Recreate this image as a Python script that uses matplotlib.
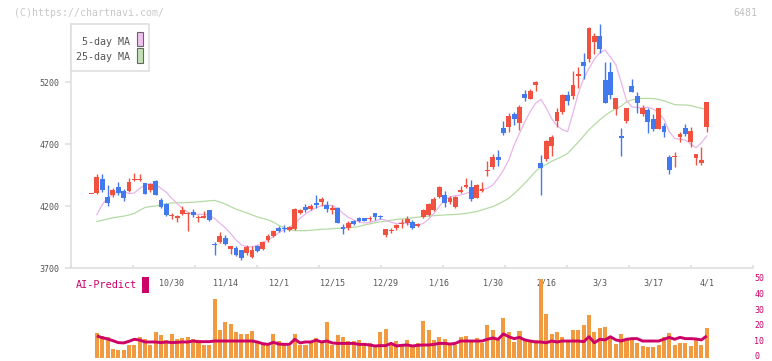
import matplotlib
matplotlib.use("Agg")
import matplotlib.pyplot as plt
from matplotlib.patches import Rectangle
import numpy as np

# daily candles, index 0 .. 115 (index 15 = 10/30, 115 = 4/1)
opens = [4293, 4307, 4418, 4275, 4291, 4353, 4321, 4321, 4412, 4410,
         4385, 4329, 4402, 4248, 4216, 4122, 4106, 4135, 4135, 4151,
         4103, 4106, 4168, 3894, 3910, 3942, 3856, 3861, 3845, 3824,
         3791, 3877, 3853, 3926, 3958, 4025, 4020, 4009, 4015, 4146,
         4192, 4176, 4227, 4232, 4208, 4170, 4187, 4033, 4025, 4082,
         4103, 4103, 4096, 4144, 4116, 3966, 3998, 4020, 4055, 4060,
         4068, 4041, 4114, 4127, 4170, 4275, 4289, 4235, 4195, 4313,
         4356, 4353, 4267, 4321, 4480, 4515, 4595, 4829, 4840, 4942,
         4872, 5103, 5066, 5178, 4547, 4579, 4684, 4888, 4958, 5095,
         5090, 5251, 5364, 5386, 5523, 5574, 5216, 5281, 4985, 4762,
         4886, 5168, 5087, 4942, 4974, 4902, 4824, 4843, 4598, 4595,
         4759, 4829, 4719, 4590, 4550, 4840]
highs = [4296, 4458, 4458, 4369, 4345, 4393, 4337, 4426, 4463, 4458,
         4388, 4380, 4410, 4262, 4227, 4146, 4127, 4203, 4148, 4173,
         4127, 4160, 4170, 3907, 3990, 3969, 3880, 3880, 3848, 3885,
         3877, 3885, 3918, 3972, 4007, 4036, 4047, 4039, 4184, 4176,
         4213, 4216, 4289, 4273, 4240, 4205, 4190, 4052, 4079, 4087,
         4111, 4106, 4119, 4146, 4127, 4018, 4025, 4058, 4093, 4119,
         4087, 4066, 4176, 4227, 4270, 4361, 4321, 4278, 4281, 4361,
         4428, 4410, 4375, 4394, 4563, 4619, 4652, 4885, 4947, 4961,
         5014, 5135, 5141, 5211, 4611, 4732, 4770, 4988, 5103, 5130,
         5289, 5321, 5437, 5646, 5592, 5668, 5359, 5361, 5074, 4829,
         4993, 5224, 5119, 5015, 4993, 4939, 4993, 4867, 4611, 4633,
         4794, 4864, 4837, 4622, 4673, 5042]
lows = [4293, 4300, 4316, 4203, 4273, 4286, 4243, 4313, 4399, 4399,
        4297, 4316, 4288, 4187, 4122, 4092, 4068, 4127, 4001, 4111,
        4074, 4100, 4082, 3805, 3902, 3886, 3813, 3799, 3764, 3808,
        3783, 3830, 3845, 3907, 3953, 3988, 3988, 3998, 4009, 4133,
        4149, 4168, 4181, 4200, 4154, 4138, 4064, 3977, 4007, 4047,
        4074, 4079, 4079, 4090, 4098, 3953, 3985, 4007, 4025, 4049,
        4015, 4033, 4106, 4122, 4162, 4267, 4189, 4219, 4187, 4302,
        4345, 4243, 4262, 4316, 4442, 4501, 4523, 4773, 4797, 4851,
        4813, 5047, 5060, 5130, 4289, 4566, 4603, 4840, 4942, 5017,
        5066, 5154, 5224, 5359, 5423, 5437, 5028, 5063, 4937, 4606,
        4872, 5117, 4953, 4929, 4786, 4808, 4818, 4759, 4461, 4517,
        4719, 4762, 4676, 4531, 4528, 4800]
closes = [4296, 4434, 4332, 4227, 4329, 4307, 4267, 4393, 4415, 4415,
          4299, 4377, 4291, 4195, 4130, 4127, 4119, 4168, 4146, 4127,
          4106, 4119, 4090, 3883, 3958, 3894, 3877, 3808, 3778, 3872,
          3845, 3840, 3912, 3961, 4001, 4001, 4016, 4028, 4179, 4165,
          4165, 4203, 4205, 4256, 4176, 4181, 4066, 4017, 4066, 4055,
          4082, 4082, 4099, 4111, 4113, 4015, 4001, 4050, 4058, 4093,
          4025, 4055, 4168, 4216, 4256, 4353, 4227, 4267, 4273, 4329,
          4369, 4259, 4369, 4337, 4483, 4595, 4574, 4791, 4928, 4899,
          4998, 5074, 5127, 5197, 4509, 4724, 4756, 4955, 5095, 5049,
          5176, 5267, 5329, 5638, 5574, 5466, 5033, 5098, 5071, 4751,
          4990, 5122, 5028, 4990, 4875, 4821, 4990, 4794, 4493, 4598,
          4781, 4781, 4805, 4619, 4571, 5039]

# moving averages as drawn, index 1 .. 115
ma5 = [4130, 4210, 4265, 4290, 4318, 4316, 4300, 4305, 4342, 4369,
       4383, 4370, 4342, 4310, 4262, 4220, 4180, 4150, 4135, 4133,
       4133, 4128, 4100, 4060, 4025, 3979, 3926, 3886, 3872, 3870,
       3882, 3899, 3926, 3953, 3985, 4007, 4025, 4060, 4101, 4136,
       4162, 4187, 4203, 4208, 4203, 4181, 4141, 4109, 4087, 4074,
       4063, 4066, 4079, 4093, 4087, 4068, 4058, 4066, 4060, 4044,
       4044, 4060, 4093, 4141, 4195, 4248, 4275, 4283, 4289, 4302,
       4316, 4324, 4334, 4343, 4369, 4423, 4490, 4571, 4692, 4786,
       4880, 4961, 5028, 5060, 4990, 4905, 4850, 4815, 4800, 4950,
       5110, 5230, 5310, 5385, 5435, 5458, 5400, 5340, 5200, 5050,
       5000, 4995, 4990, 4996, 4982, 4950, 4900, 4800, 4745, 4738,
       4732, 4700, 4670, 4710, 4765]
ma25 = [4075, 4085, 4095, 4105, 4112, 4118, 4128, 4140, 4165, 4188,
        4196, 4200, 4208, 4218, 4224, 4226, 4227, 4228, 4230, 4234,
        4238, 4242, 4245, 4232, 4215, 4195, 4175, 4160, 4145, 4128,
        4112, 4100, 4088, 4070, 4045, 4025, 4008, 4002, 4001, 4001,
        4004, 4008, 4012, 4014, 4017, 4020, 4022, 4025, 4028, 4035,
        4047, 4055, 4065, 4072, 4078, 4085, 4092, 4096, 4100, 4105,
        4110, 4115, 4119, 4122, 4125, 4128, 4130, 4132, 4135, 4140,
        4148, 4155, 4168, 4182, 4195, 4215, 4238, 4262, 4300, 4340,
        4385, 4430, 4480, 4512, 4535, 4560, 4580, 4600, 4625, 4670,
        4715, 4765, 4815, 4855, 4895, 4930, 4960, 4985, 5005, 5040,
        5055, 5065, 5068, 5068, 5066, 5060, 5048, 5033, 5018, 5015,
        5015, 5010, 4998, 4988, 4980]

# lower panel, index 1 .. 115
volume = [15.8, 13.5, 13.0, 5.5, 4.8, 4.8, 8.0, 8.0, 13.0, 11.8,
          8.0, 16.2, 14.3, 11.1, 14.9, 11.8, 12.6, 13.0, 12.0, 11.1,
          8.0, 8.0, 37.0, 17.4, 22.5, 21.2, 16.2, 14.9, 14.9, 16.8,
          9.9, 8.0, 8.0, 14.9, 10.5, 8.0, 7.4, 14.9, 8.0, 8.0,
          9.3, 12.6, 9.3, 22.5, 8.0, 14.3, 13.0, 10.5, 10.5, 11.1,
          8.0, 9.3, 7.0, 16.2, 18.1, 8.0, 10.5, 8.0, 11.1, 8.0,
          9.3, 23.1, 17.4, 11.1, 13.0, 11.8, 9.3, 8.0, 13.0, 13.7,
          10.5, 12.4, 9.3, 20.6, 17.4, 11.1, 25.0, 16.2, 9.9, 16.8,
          11.1, 11.1, 11.1, 49.6, 27.5, 14.9, 16.2, 13.0, 10.5, 17.4,
          17.4, 20.6, 27.0, 16.2, 18.7, 19.3, 13.0, 8.6, 14.9, 11.1,
          12.4, 9.3, 7.4, 6.7, 6.7, 8.0, 13.0, 15.5, 8.0, 9.3,
          9.3, 7.4, 11.1, 8.0, 18.7]
ai_predict = [13.7, 12.6, 11.8, 10.7, 9.5, 9.3, 10.3, 11.6, 11.1, 9.9,
              9.9, 9.9, 9.5, 9.9, 9.5, 9.7, 9.9, 9.9, 10.5, 10.1,
              10.1, 10.1, 10.5, 10.5, 10.5, 10.5, 10.5, 10.5, 10.5, 10.5,
              9.9, 8.8, 8.4, 9.7, 8.6, 8.4, 8.4, 11.6, 9.3, 9.9,
              9.9, 11.0, 9.9, 10.5, 9.3, 9.0, 9.0, 9.0, 9.0, 8.4,
              8.4, 8.0, 7.4, 7.6, 7.6, 9.0, 7.4, 7.8, 8.0, 7.4,
              7.8, 8.0, 8.0, 8.4, 9.0, 9.0, 8.6, 9.0, 10.5, 10.5,
              10.5, 10.5, 10.5, 11.6, 12.4, 11.6, 15.0, 13.2, 12.0, 12.8,
              11.2, 10.5, 9.9, 9.9, 9.4, 10.5, 9.9, 10.5, 10.5, 10.5,
              10.5, 10.1, 13.2, 9.4, 11.6, 11.2, 13.2, 11.2, 10.5, 11.6,
              12.0, 12.0, 10.5, 10.5, 10.5, 10.5, 11.6, 12.8, 11.6, 12.8,
              12.0, 12.0, 11.8, 11.2, 13.7]

date_labels = ["10/30", "11/14", "12/1", "12/15", "12/29", "1/16",
               "1/30", "2/16", "3/3", "3/17", "4/1"]
date_index = [15, 25, 35, 45, 55, 65, 75, 85, 95, 105, 115]
price_ticks = [3700, 4200, 4700, 5200]
ai_ticks = [0, 10, 20, 30, 40, 50]

W, H = 772, 361
RED = "#f0523f"
BLUE = "#4379ee"
GRID = "#dddddd"
TXT = "#555555"
MAG = "#cc0066"
MONO = "DejaVu Sans Mono"


def fx(px):
    return px / W


def fy(py):
    return 1 - py / H


fig = plt.figure(figsize=(W / 100, H / 100), dpi=100)

# ---- price panel
ax = fig.add_axes([fx(70.7), fy(268), 682 / W, (268 - 24.3) / H])
idx = np.arange(len(opens))
o = np.array(opens, float)
c = np.array(closes, float)
col = np.where(c >= o, RED, BLUE)

ax.plot(idx[1:], ma25, color="#b5dba5", lw=0.9, zorder=1)
ax.plot(idx[1:], ma5, color="#e9b5ea", lw=0.9, zorder=1)
ax.vlines(idx, lows, highs, colors=col, lw=1.0, zorder=2, clip_on=False)
ax.bar(idx, np.maximum(np.abs(c - o), 9), bottom=np.minimum(o, c), width=0.9,
       color=col, lw=0, zorder=3, clip_on=False)

ax.set_xlim(-3.888, 123.59)
ax.set_ylim(3700, 3700 + (268 - 24.3) / 0.124)
for s in ["top", "right"]:
    ax.spines[s].set_visible(False)
for s in ["left", "bottom"]:
    ax.spines[s].set_color(GRID)
    ax.spines[s].set_linewidth(1.1)
ax.set_yticks(price_ticks)
ax.set_yticklabels([str(p) for p in price_ticks], family=MONO, fontsize=6, color=TXT)
ax.tick_params(axis="y", direction="out", length=4.1, width=1.1, color=GRID, pad=4.1)
ax.set_xticks(np.linspace(-3.888, 123.59, 12))
ax.set_xticklabels([])
ax.tick_params(axis="x", direction="in", length=2.4, width=1.1, color=GRID)

# ---- volume / AI panel
ax2 = fig.add_axes([fx(70.7), fy(357.7), 682 / W, (357.7 - 278.3) / H])
ax2.bar(idx[1:], volume, width=0.75, color="#f29a40", lw=0, zorder=2)
ax2.plot(idx[1:], ai_predict, color=MAG, lw=2.1, zorder=3, solid_capstyle="butt")
ax2.set_xlim(-3.888, 123.59)
ax2.set_ylim(0, 50)
for s in ax2.spines.values():
    s.set_visible(False)
ax2.set_xticks([])
ax2.set_yticks([])
ytr = ax2.get_yaxis_transform()
for v in ai_ticks:
    ax2.text(1.002, max(v, 0.9), str(v), transform=ytr, ha="left", va="center",
             family=MONO, fontsize=6, color=MAG, clip_on=False)
for i, lab in zip(date_index, date_labels):
    ax2.text(i, 47, lab, ha="center", va="center", family=MONO, fontsize=6,
             color=TXT, zorder=1)

# ---- decorations
fig.text(fx(14), fy(12.5), "(C)https://chartnavi.com/", family=MONO, fontsize=7.1,
         color="#c8c8c8", ha="left", va="center")
fig.text(fx(757), fy(12.5), "6481", family=MONO, fontsize=7.1,
         color="#c0c0c0", ha="right", va="center")

fig.add_artist(Rectangle((fx(70.5), fy(71.3)), 78 / W, 47 / H, transform=fig.transFigure,
                         facecolor="white", edgecolor=GRID, lw=1.1, zorder=5))
fig.add_artist(Rectangle((fx(136.5), fy(46.3)), 6 / W, 14.6 / H, transform=fig.transFigure,
                         facecolor="#f0c2f0", edgecolor="#666666", lw=0.8, zorder=6))
fig.add_artist(Rectangle((fx(136.5), fy(63)), 6 / W, 14.6 / H, transform=fig.transFigure,
                         facecolor="#c2e2b4", edgecolor="#666666", lw=0.8, zorder=6))
fig.text(fx(129.5), fy(41.7), "5-day MA", family=MONO, fontsize=7.2, color=TXT,
         ha="right", va="center", zorder=7)
fig.text(fx(129.5), fy(57.5), "25-day MA", family=MONO, fontsize=7.2, color=TXT,
         ha="right", va="center", zorder=7)

fig.text(fx(76), fy(285.5), "AI-Predict", family=MONO, fontsize=7.3, color=MAG,
         ha="left", va="center")
fig.add_artist(Rectangle((fx(142), fy(292.7)), 7 / W, 16 / H, transform=fig.transFigure,
                         facecolor=MAG, edgecolor="none"))

fig.savefig("out.png", dpi=100)
